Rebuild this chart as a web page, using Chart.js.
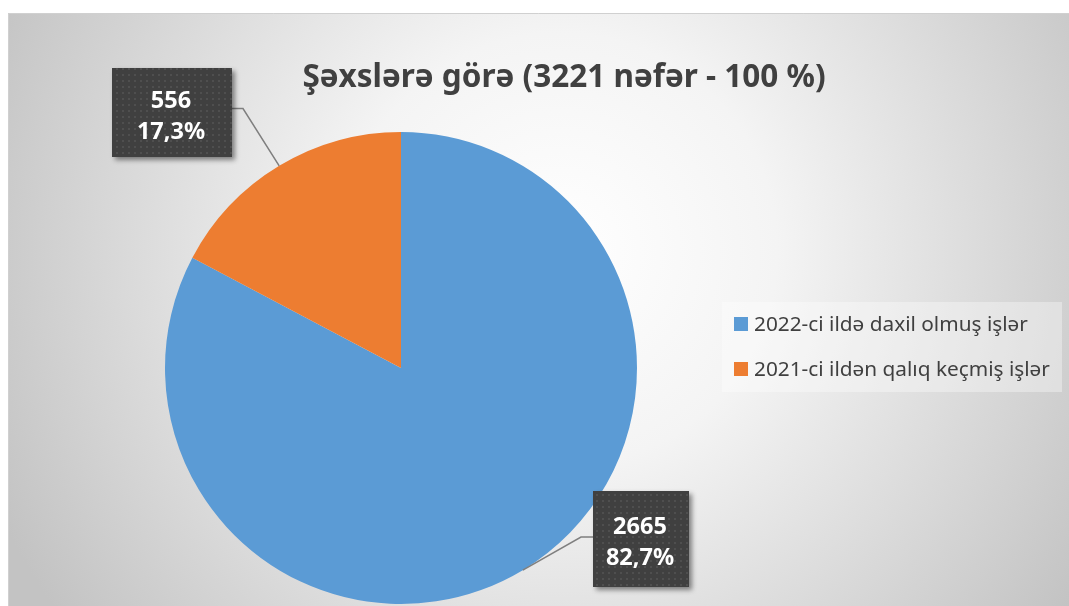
<!DOCTYPE html>
<html>
<head>
<meta charset="utf-8">
<script src="https://cdn.jsdelivr.net/npm/chart.js@4/dist/chart.umd.min.js"></script>
<style>
html,body{margin:0;padding:0;background:#fff;}
#wrap{width:1069px;height:606px;position:relative;}
</style>
</head>
<body>
<div id="wrap"><canvas id="c"></canvas></div>
<script>
const titleText = "Şəxslərə görə (3221 nəfər - 100 %)";
const categories = ["2022-ci ildə daxil olmuş işlər", "2021-ci ildən qalıq keçmiş işlər"];
const seriesValues = [2665, 556];
const percentLabels = ["82,7%", "17,3%"];
const sliceColors = ["#5B9BD5", "#ED7D31"];

const FONT = "'Noto Sans', 'Open Sans', sans-serif";

function makePattern(ctx) {
  const p = document.createElement('canvas');
  p.width = 6; p.height = 6;
  const g = p.getContext('2d');
  g.fillStyle = '#404040';
  g.fillRect(0, 0, 6, 6);
  g.fillStyle = '#4f4f4f';
  g.fillRect(2, 2, 2, 2);
  return ctx.createPattern(p, 'repeat');
}

const bgPlugin = {
  id: 'bg',
  beforeDraw(chart) {
    const ctx = chart.ctx;
    const W = chart.width, H = chart.height;
    ctx.save();
    ctx.fillStyle = '#ffffff';
    ctx.fillRect(0, 0, W, H);
    const x0 = 8, y0 = 13;
    const grd = ctx.createRadialGradient(560, 250, 0, 560, 250, 620);
    grd.addColorStop(0, '#ffffff');
    grd.addColorStop(0.35, '#f4f4f4');
    grd.addColorStop(1, '#c3c3c3');
    ctx.fillStyle = grd;
    ctx.fillRect(x0, y0, W - x0, H - y0);
    ctx.strokeStyle = '#d0d0d0';
    ctx.lineWidth = 1;
    ctx.beginPath();
    ctx.moveTo(x0 + 0.5, H);
    ctx.lineTo(x0 + 0.5, y0 + 0.5);
    ctx.lineTo(W, y0 + 0.5);
    ctx.stroke();
    // title
    ctx.fillStyle = '#404040';
    ctx.font = "bold 31.5px " + FONT;
    ctx.textAlign = 'center';
    ctx.textBaseline = 'alphabetic';
    ctx.fillText(titleText, 564, 87);
    // legend
    ctx.fillStyle = 'rgba(255,255,255,0.35)';
    ctx.fillRect(722, 302, 340, 90);
    ctx.font = "20.8px " + FONT;
    ctx.textAlign = 'left';
    categories.forEach((c, i) => {
      const y = 317 + i * 45;
      ctx.fillStyle = sliceColors[i];
      ctx.fillRect(734, y, 14, 14);
      ctx.fillStyle = '#404040';
      ctx.fillText(c, 754, y + 14);
    });
    ctx.restore();
  }
};

const labelPlugin = {
  id: 'labels',
  afterDatasetsDraw(chart) {
    const ctx = chart.ctx;
    const meta = chart.getDatasetMeta(0);
    const pattern = makePattern(ctx);
    const boxes = [
      {x: 593, y: 491, w: 96, h: 96, side: 'left', elbow: -12},
      {x: 112, y: 68, w: 120, h: 89, side: 'right', elbow: 11}
    ];
    meta.data.forEach((arc, i) => {
      const mid = (arc.startAngle + arc.endAngle) / 2;
      const ax = arc.x + Math.cos(mid) * arc.outerRadius;
      const ay = arc.y + Math.sin(mid) * arc.outerRadius;
      const b = boxes[i];
      const ly = b.y + b.h / 2 - (i === 0 ? 2 : 4);
      const bx = b.side === 'left' ? b.x : b.x + b.w;
      ctx.save();
      ctx.strokeStyle = '#7f7f7f';
      ctx.lineWidth = 1.5;
      ctx.beginPath();
      ctx.moveTo(ax, ay);
      ctx.lineTo(bx + b.elbow, ly);
      ctx.lineTo(bx, ly);
      ctx.stroke();
      ctx.shadowColor = 'rgba(0,0,0,0.45)';
      ctx.shadowBlur = 5;
      ctx.shadowOffsetX = 3;
      ctx.shadowOffsetY = 3;
      ctx.fillStyle = pattern;
      ctx.fillRect(b.x, b.y, b.w, b.h);
      ctx.restore();
      ctx.save();
      ctx.fillStyle = '#ffffff';
      ctx.font = "bold 23.5px " + FONT;
      ctx.textAlign = 'center';
      ctx.textBaseline = 'alphabetic';
      const cx = b.x + b.w / 2 - 1;
      const base = b.y + b.h / 2;
      ctx.fillText(String(seriesValues[i]), cx, base - 5);
      ctx.fillText(percentLabels[i], cx, base + 26);
      ctx.restore();
    });
  }
};

new Chart(document.getElementById('c'), {
  type: 'pie',
  data: {
    labels: categories,
    datasets: [{
      data: seriesValues,
      backgroundColor: sliceColors,
      borderWidth: 0
    }]
  },
  options: {
    responsive: true,
    maintainAspectRatio: false,
    animation: false,
    layout: {padding: {left: 165, right: 432, top: 132, bottom: 2}},
    plugins: {
      legend: {display: false},
      tooltip: {enabled: false},
      title: {display: false}
    }
  },
  plugins: [bgPlugin, labelPlugin]
});
</script>
</body>
</html>
